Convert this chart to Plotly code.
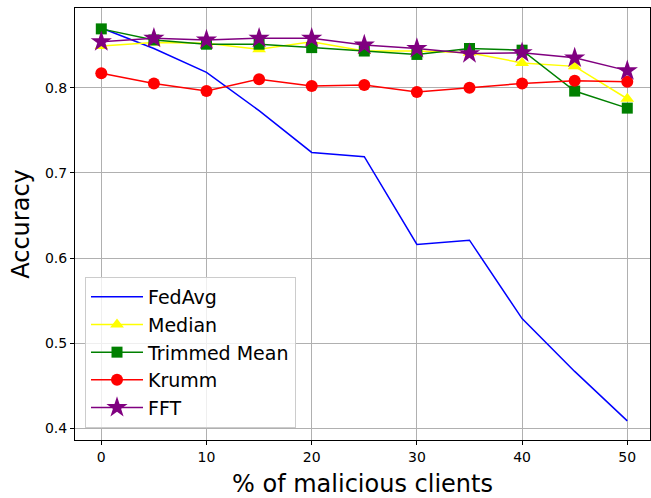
import plotly.graph_objects as go

x = [0, 5, 10, 15, 20, 25, 30, 35, 40, 45, 50]
fedavg = [0.870, 0.846, 0.818, 0.773, 0.724, 0.719, 0.616, 0.621, 0.529, 0.467, 0.409]
median = [0.849, 0.853, 0.852, 0.845, 0.854, 0.843, 0.843, 0.841, 0.829, 0.825, 0.787]
trimmed = [0.869, 0.856, 0.851, 0.851, 0.847, 0.843, 0.839, 0.846, 0.844, 0.796, 0.776]
krumm = [0.817, 0.805, 0.796, 0.810, 0.802, 0.803, 0.795, 0.800, 0.805, 0.808, 0.807]
fft = [0.854, 0.858, 0.856, 0.858, 0.858, 0.850, 0.846, 0.840, 0.841, 0.835, 0.820]

series = [
    ("FedAvg", fedavg, "blue", None, 0),
    ("Median", median, "yellow", "triangle-up", 12),
    ("Trimmed Mean", trimmed, "green", "square", 11),
    ("Krumm", krumm, "red", "circle", 12),
    ("FFT", fft, "purple", "star", 16),
]

fig = go.Figure()
for name, ys, color, sym, size in series:
    if sym is None:
        fig.add_trace(go.Scatter(x=x, y=ys, name=name, mode="lines",
                                 line=dict(color=color, width=1.5)))
    else:
        fig.add_trace(go.Scatter(x=x, y=ys, name=name, mode="lines+markers",
                                 line=dict(color=color, width=1.5),
                                 marker=dict(symbol=sym, size=size, color=color,
                                             line=dict(width=0))))

axis_common = dict(showline=True, linecolor="black", linewidth=1, mirror=True,
                   showgrid=True, gridcolor="#b0b0b0", gridwidth=1,
                   ticks="outside", ticklen=4, tickcolor="black", zeroline=False,
                   automargin=False,
                   tickfont=dict(family="DejaVu Sans", size=14, color="black"))

fig.update_layout(
    width=651, height=498,
    margin=dict(l=75, r=1, t=8, b=58),
    plot_bgcolor="white", paper_bgcolor="white",
    font=dict(family="DejaVu Sans", color="black"),
    xaxis=dict(range=[-2.5, 52.16], tickvals=[0, 10, 20, 30, 40, 50],
               title=dict(text="% of malicious clients", font=dict(size=24), standoff=11),
               **axis_common),
    yaxis=dict(range=[0.3865, 0.8935], tickvals=[0.4, 0.5, 0.6, 0.7, 0.8],
               tickformat=".1f",
               title=dict(text="Accuracy", font=dict(size=24), standoff=8),
               **axis_common),
    legend=dict(x=0.0174, y=0.028, xanchor="left", yanchor="bottom",
                bgcolor="rgba(255,255,255,0.8)", bordercolor="#cccccc", borderwidth=1,
                font=dict(size=19), itemwidth=52, tracegroupgap=0),
    showlegend=True,
)

fig.write_html("out.html", config={"displayModeBar": False},
               post_script="document.body.style.margin='0';")
